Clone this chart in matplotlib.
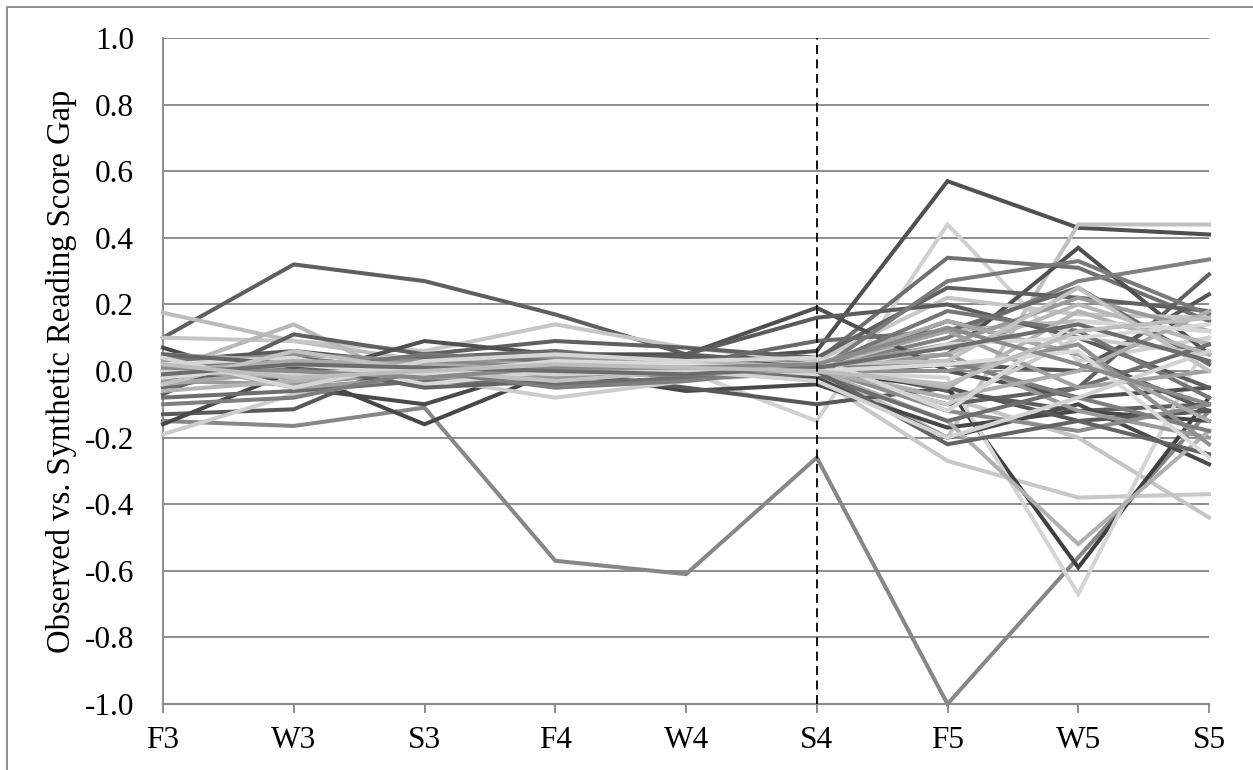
import matplotlib
matplotlib.use("Agg")
import matplotlib.pyplot as plt
from matplotlib.lines import Line2D

categories = ["F3", "W3", "S3", "F4", "W4", "S4", "F5", "W5", "S5"]

line_colors = [
    "#5f5f5f", "#878787", "#505050", "#d0d0d0", "#c0c0c0", "#c8c8c8", "#c4c4c4",
    "#404040", "#d4d4d4", "#707070", "#808080", "#505050", "#606060", "#555555",
    "#bcbcbc", "#c6c6c6", "#b8b8b8", "#4a4a4a", "#5a5a5a", "#606060", "#484848",
    "#505050", "#5c5c5c", "#6a6a6a", "#585858", "#cccccc", "#7a7a7a", "#999999",
    "#9a9a9a", "#8c8c8c", "#a8a8a8", "#b0b0b0", "#6e6e6e", "#767676", "#909090",
    "#a0a0a0", "#b4b4b4", "#d8d8d8", "#646464", "#7e7e7e", "#acacac", "#c2c2c2",
    "#d6d6d6", "#dadada", "#d2d2d2", "#8a8a8a", "#6c6c6c", "#bdbdbd",
]

gap_values = [
    [0.10, 0.32, 0.27, 0.17, 0.05, 0.02, -0.06, -0.12, -0.10],
    [-0.15, -0.165, -0.11, -0.57, -0.61, -0.26, -1.00, -0.56, -0.12],
    [0.04, 0.02, 0.03, 0.04, 0.03, 0.06, 0.57, 0.43, 0.41],
    [0.02, 0.00, -0.02, 0.01, 0.00, -0.15, 0.44, 0.03, 0.10],
    [-0.03, 0.01, 0.00, -0.02, 0.00, 0.01, -0.20, 0.44, 0.44],
    [0.00, 0.02, -0.01, 0.00, 0.01, -0.02, -0.27, -0.38, -0.37],
    [0.01, -0.03, 0.02, -0.01, 0.00, 0.01, -0.08, -0.20, -0.44],
    [-0.02, 0.03, -0.01, 0.02, 0.01, 0.00, -0.05, -0.59, -0.08],
    [0.03, -0.01, 0.01, 0.00, -0.01, 0.00, -0.02, -0.67, 0.10],
    [0.00, 0.01, 0.02, 0.01, 0.02, 0.03, 0.34, 0.31, 0.15],
    [-0.01, 0.00, 0.01, 0.02, 0.00, 0.01, 0.10, 0.27, 0.335],
    [0.02, -0.01, 0.00, 0.01, 0.02, 0.02, 0.05, 0.37, 0.05],
    [-0.02, 0.00, -0.01, 0.00, 0.01, 0.00, -0.10, -0.05, 0.29],
    [0.00, 0.01, 0.00, -0.01, 0.00, -0.01, 0.02, 0.00, 0.23],
    [0.175, 0.09, 0.03, 0.03, 0.02, 0.01, 0.12, 0.15, 0.12],
    [0.10, 0.09, 0.06, 0.14, 0.07, 0.03, 0.22, 0.17, 0.16],
    [0.00, 0.14, -0.05, 0.06, 0.03, 0.02, 0.05, 0.20, 0.08],
    [0.07, -0.05, -0.10, 0.02, 0.00, -0.02, -0.20, -0.10, -0.28],
    [-0.13, -0.115, 0.05, 0.03, 0.04, 0.01, 0.15, 0.05, -0.12],
    [-0.07, 0.11, 0.05, 0.09, 0.07, 0.04, 0.25, 0.22, 0.18],
    [-0.16, 0.00, -0.16, 0.00, -0.06, -0.04, -0.17, -0.12, -0.15],
    [0.00, -0.02, 0.09, 0.05, 0.05, 0.19, 0.00, -0.08, -0.05],
    [0.02, 0.04, 0.00, 0.02, 0.05, 0.16, 0.20, 0.10, -0.05],
    [-0.05, 0.02, 0.04, 0.06, 0.02, 0.09, 0.12, 0.25, 0.02],
    [0.03, 0.06, 0.02, 0.00, -0.05, -0.10, -0.05, -0.15, -0.12],
    [-0.19, -0.07, -0.02, -0.08, -0.03, 0.00, -0.10, 0.10, 0.05],
    [0.01, 0.03, 0.01, -0.03, 0.01, 0.00, 0.27, 0.33, 0.17],
    [0.00, -0.02, 0.02, 0.04, 0.03, 0.01, 0.08, 0.22, 0.12],
    [-0.03, -0.04, 0.00, -0.02, 0.01, 0.00, 0.05, -0.12, -0.20],
    [0.02, 0.05, 0.03, 0.01, -0.02, 0.01, -0.12, -0.18, -0.10],
    [-0.04, 0.00, -0.03, 0.02, 0.00, 0.02, 0.15, 0.05, -0.15],
    [0.05, 0.03, 0.02, -0.05, -0.02, 0.00, -0.15, -0.52, -0.18],
    [-0.08, -0.06, -0.03, -0.04, -0.02, -0.01, -0.15, -0.05, 0.08],
    [0.04, 0.00, 0.05, 0.03, 0.02, 0.01, 0.18, 0.12, -0.08],
    [-0.02, 0.02, 0.00, 0.01, -0.01, 0.00, 0.00, 0.08, -0.22],
    [0.03, -0.05, -0.02, -0.01, 0.00, 0.02, 0.12, -0.05, 0.00],
    [-0.06, -0.03, 0.00, 0.02, 0.03, 0.01, -0.05, 0.18, 0.05],
    [0.02, 0.04, -0.04, 0.00, 0.02, -0.01, 0.08, 0.10, 0.14],
    [0.05, 0.02, -0.05, -0.03, 0.00, 0.00, -0.22, -0.15, -0.25],
    [-0.10, -0.08, 0.00, -0.05, -0.03, 0.01, 0.03, -0.08, -0.18],
    [0.00, 0.03, 0.02, 0.00, 0.00, 0.00, -0.08, 0.00, 0.18],
    [-0.04, 0.06, 0.00, -0.03, 0.00, 0.02, 0.03, 0.25, 0.00],
    [0.04, -0.05, 0.03, 0.05, 0.03, 0.04, -0.12, 0.15, 0.12],
    [-0.02, 0.02, -0.01, 0.03, 0.02, 0.00, 0.02, 0.06, -0.26],
    [0.00, -0.01, 0.01, -0.01, 0.00, -0.03, -0.20, -0.08, 0.06],
    [0.01, 0.00, -0.02, 0.01, 0.01, 0.02, 0.13, 0.02, -0.10],
    [-0.01, 0.02, 0.01, 0.00, -0.01, 0.01, 0.07, 0.14, 0.03],
    [0.02, -0.02, 0.00, 0.02, 0.01, 0.00, -0.04, 0.12, 0.16],
]

y_ticks = [-1.0, -0.8, -0.6, -0.4, -0.2, 0.0, 0.2, 0.4, 0.6, 0.8, 1.0]
y_label = "Observed vs. Synthetic Reading Score Gap"
divider_category = "S4"

plt.rcParams["font.family"] = ["Liberation Serif", "DejaVu Serif"]

fig = plt.figure(figsize=(12.53, 7.70), dpi=100)
ax = fig.add_axes([163 / 1253, 1 - 704 / 770, (1209 - 163) / 1253, (704 - 38) / 770])

x = list(range(len(categories)))
for col, vals in zip(line_colors, gap_values):
    ax.plot(x, vals, color=col, lw=2.9, solid_joinstyle="miter", zorder=3, clip_on=False)

div_x = categories.index(divider_category)
ax.axvline(div_x, color="black", lw=1.3, ls=(0, (5, 3)), zorder=4)

ax.set_xlim(0, len(categories) - 1)
ax.set_ylim(-1.0, 1.0)
ax.set_xticks(x)
ax.set_xticklabels(categories)
ax.set_yticks(y_ticks)
ax.set_yticklabels([f"{v:.1f}" for v in y_ticks])
ax.grid(axis="y", color="#8c8c8c", lw=1.4, zorder=1)
ax.set_axisbelow(True)

for s in ["top", "right"]:
    ax.spines[s].set_visible(False)
ax.spines["left"].set_color("#8c8c8c")
ax.spines["left"].set_linewidth(1.4)
ax.spines["bottom"].set_color("#8c8c8c")
ax.spines["bottom"].set_linewidth(1.6)

ax.tick_params(axis="y", length=0, pad=21, labelsize=22.5)
ax.tick_params(axis="x", length=6.5, width=1.4, color="#8c8c8c", direction="out", pad=9, labelsize=22.5)

ax.set_ylabel(y_label, fontsize=23.5)
ax.yaxis.set_label_coords(-0.082, 0.5)

# chart-area border (top and left edges visible in the frame)
fig.lines.append(Line2D([7 / 1253, 7 / 1253, 1.0], [0.0, 1 - 7 / 770, 1 - 7 / 770],
                        transform=fig.transFigure, color="#8c8c8c", lw=1.4))

fig.savefig("out.png", dpi=100)
